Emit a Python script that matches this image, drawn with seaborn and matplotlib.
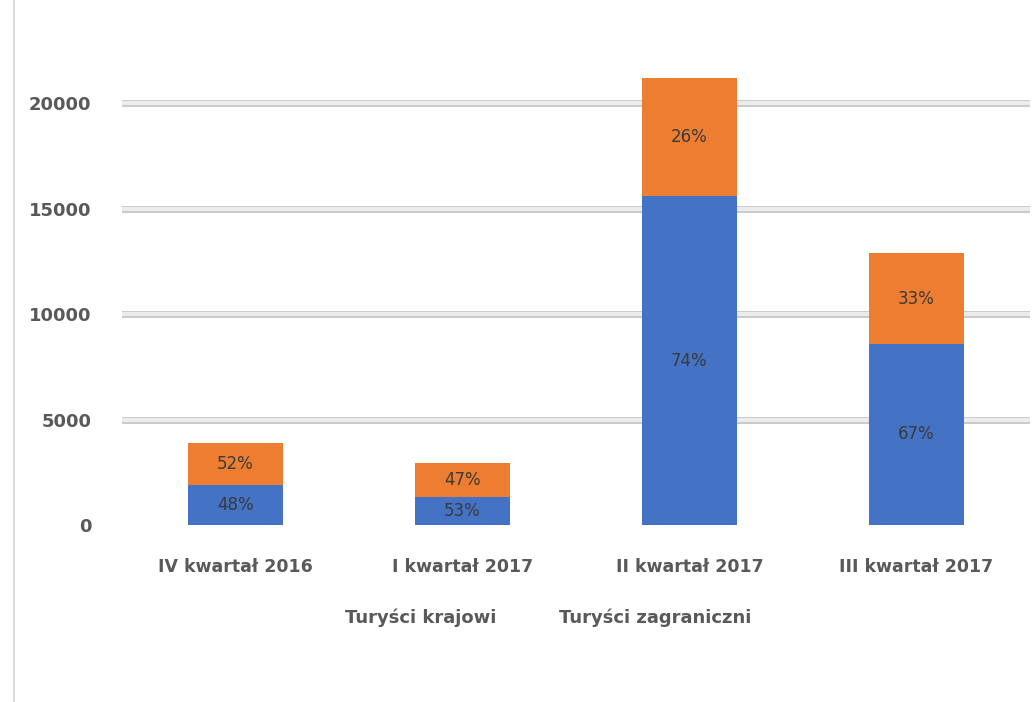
import matplotlib
matplotlib.use("Agg")
import matplotlib.pyplot as plt
import seaborn as sns
from matplotlib.lines import Line2D
from matplotlib.patches import Patch

# values
quarters = ['IV kwartał 2016', 'I kwartał 2017', 'II kwartał 2017', 'III kwartał 2017']
domestic = [1880, 1330, 15600, 8600]      # Turyści krajowi
foreign = [2010, 1610, 5600, 4280]        # Turyści zagraniczni
domestic_pct = ['48%', '53%', '74%', '67%']
foreign_pct = ['52%', '47%', '26%', '33%']
series_names = ['Turyści krajowi', 'Turyści zagraniczni']
y_ticks = [0, 5000, 10000, 15000, 20000]

BLUE = '#4472C4'
ORANGE = '#ED7D31'
TEXT = '#595959'

sns.set_style('white')
plt.rcParams['font.family'] = ['DejaVu Sans']

totals = [d + f for d, f in zip(domestic, foreign)]

fig = plt.figure(figsize=(10.32, 7.02), dpi=100)
ax = fig.add_axes([0.118, 0.252, 0.880, 0.661])

# gridlines with a faint 3D look
for t in y_ticks[1:]:
    ax.axhline(t, color='#c9c9c9', lw=5, zorder=0)
    ax.axhline(t, color='#ececec', lw=3, zorder=0)

sns.barplot(x=quarters, y=totals, color=ORANGE, width=0.42, saturation=1,
            edgecolor='none', ax=ax, zorder=2)
sns.barplot(x=quarters, y=domestic, color=BLUE, width=0.42, saturation=1,
            edgecolor='none', ax=ax, zorder=3)

for i in range(len(quarters)):
    ax.text(i, domestic[i] / 2, domestic_pct[i], ha='center', va='center',
            fontsize=12, color='#3a3a3a', zorder=4)
    ax.text(i, domestic[i] + foreign[i] / 2, foreign_pct[i], ha='center', va='center',
            fontsize=12, color='#3a3a3a', zorder=4)

ax.set_ylim(0, 22000)
ax.set_xlim(-0.5, 3.5)
ax.set_yticks(y_ticks)
ax.set_yticklabels([str(t) for t in y_ticks], fontsize=13, fontweight='bold', color=TEXT)
ax.tick_params(axis='y', length=0, pad=22)
ax.tick_params(axis='x', length=0, pad=24, labelsize=12.5, labelcolor=TEXT)
for lab in ax.get_xticklabels():
    lab.set_fontweight('bold')
ax.set_xlabel('')
ax.set_ylabel('')
sns.despine(ax=ax, left=True, bottom=True)

handles = [Patch(color='none', label=n) for n in series_names]
leg = fig.legend(handles=handles, loc='center', bbox_to_anchor=(0.531, 0.12), ncol=2,
                 frameon=False, handlelength=0, handletextpad=0, columnspacing=3.5,
                 prop={'size': 13, 'weight': 'bold'})
for t in leg.get_texts():
    t.set_color(TEXT)

# thin border on the left of the image
fig.add_artist(Line2D([14 / 1032, 14 / 1032], [0, 1], color='#d4d4d4', lw=1.2))

fig.savefig('out.png', dpi=100)
